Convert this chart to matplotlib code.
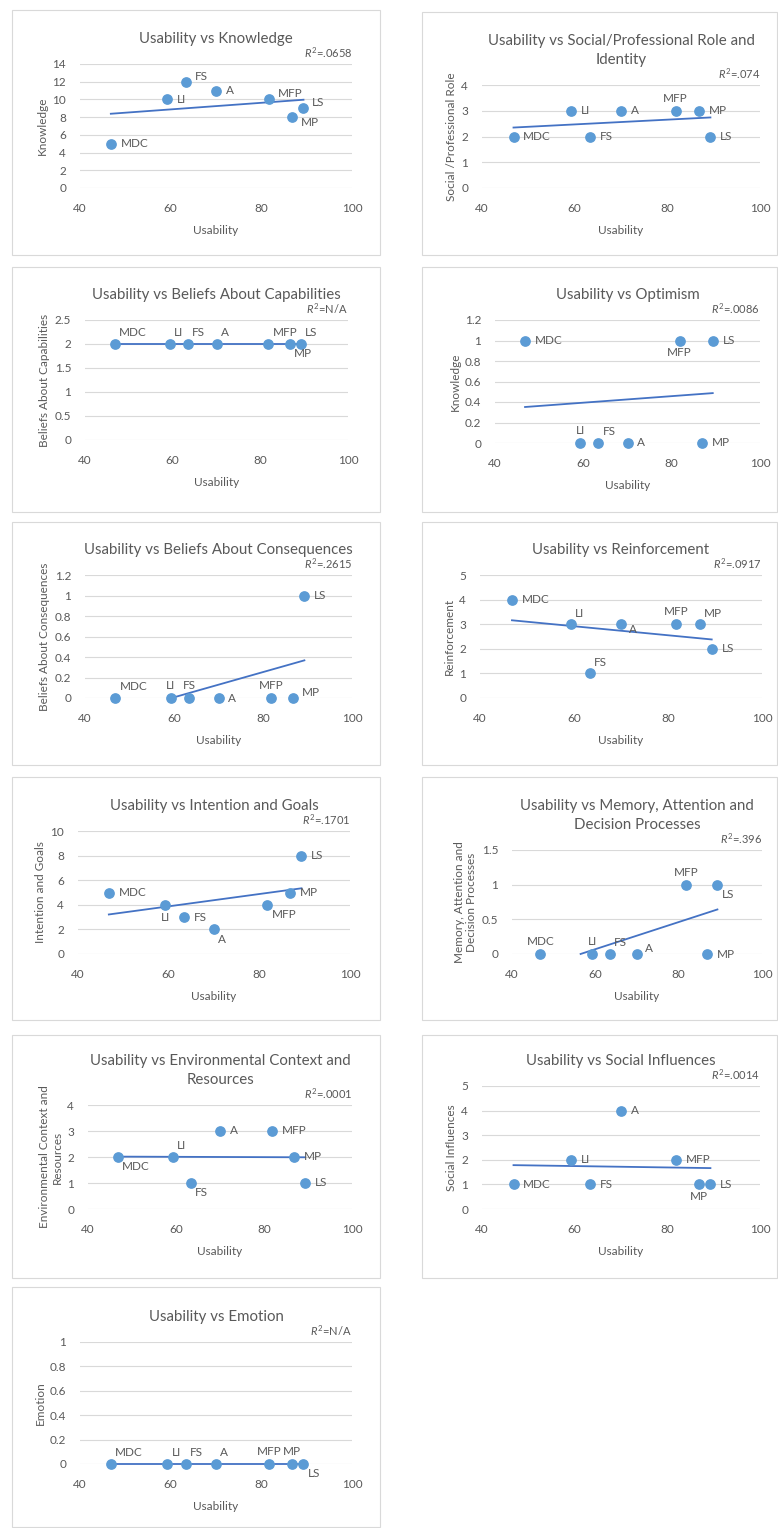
import numpy as np
import matplotlib.pyplot as plt
from matplotlib.patches import Rectangle
from matplotlib.ticker import FuncFormatter

plt.rcParams['font.family'] = ['Lato', 'DejaVu Sans']
plt.rcParams['mathtext.fontset'] = 'custom'
plt.rcParams['mathtext.it'] = 'Lato:italic'
plt.rcParams['mathtext.rm'] = 'Lato'

# sites and their usability scores
sites = ['MDC', 'LI', 'FS', 'A', 'MFP', 'MP', 'LS']
usability = [46.8, 59.3, 63.4, 70.0, 81.8, 86.8, 89.3]

# domain scores per site (same order as sites)
knowledge = [5, 10, 12, 11, 10, 8, 9]
social_role = [2, 3, 2, 3, 3, 3, 2]
beliefs_cap = [2, 2, 2, 2, 2, 2, 2]
optimism = [1, 0, 0, 0, 1, 0, 1]
beliefs_cons = [0, 0, 0, 0, 0, 0, 1]
reinforcement = [4, 3, 1, 3, 3, 3, 2]
intention = [5, 4, 3, 2, 4, 5, 8]
memory = [0, 0, 0, 0, 1, 0, 1]
environment = [2, 2, 1, 3, 3, 2, 1]
social_infl = [1, 2, 1, 4, 2, 1, 1]
emotion = [0, 0, 0, 0, 0, 0, 0]

series = [knowledge, social_role, beliefs_cap, optimism, beliefs_cons,
          reinforcement, intention, memory, environment, social_infl, emotion]

titles = ['Usability vs Knowledge',
          'Usability vs Social/Professional Role and\nIdentity',
          'Usability vs Beliefs About Capabilities',
          'Usability vs Optimism',
          'Usability vs Beliefs About Consequences',
          'Usability vs Reinforcement',
          'Usability vs Intention and Goals',
          'Usability vs Memory, Attention and\nDecision Processes',
          'Usability vs Environmental Context and\nResources',
          'Usability vs Social Influences',
          'Usability vs Emotion']
ylabels = ['Knowledge', 'Social /Professional Role', 'Beliefs About Capabilities',
           'Knowledge', 'Beliefs About Consequences', 'Reinforcement',
           'Intention and Goals', 'Memory, Attention and\nDecision Processes',
           'Environmental Context and\nResources', 'Social Influences', 'Emotion']
r2 = ['.0658', '.074', 'N/A', '.0086', '.2615', '.0917', '.1701', '.396',
      '.0001', '.0014', 'N/A']
ymax = [14, 4, 2.5, 1.2, 1.2, 5, 10, 1.5, 4, 5, 1]
ystep = [2, 1, 0.5, 0.2, 0.2, 1, 2, 0.5, 1, 1, 0.2]

# where each point label sits
label_pos = [
    ['r', 'r', 'ru', 'r', 'ru', 'rd', 'ru'],
    ['r', 'r', 'r', 'r', 'a', 'r', 'r'],
    ['ar', 'ar', 'ar', 'ar', 'ar', 'br', 'ar'],
    ['r', 'a', 'ar', 'r', 'b', 'r', 'r'],
    ['ar', 'a', 'a', 'r', 'a', 'ru', 'r'],
    ['r', 'ar', 'ar', 'rd', 'a', 'ar', 'r'],
    ['r', 'b', 'r', 'br', 'br', 'r', 'r'],
    ['a', 'a', 'ar', 'ru', 'a', 'r', 'br'],
    ['br', 'ar', 'br', 'r', 'r', 'r', 'r'],
    ['r', 'r', 'r', 'r', 'r', 'b', 'r'],
    ['ar', 'ar', 'ar', 'ar', 'a', 'a', 'br'],
]
offsets = {'r': (7, 0, 'left', 'center'), 'ru': (6, 4, 'left', 'center'),
           'rd': (6, -4, 'left', 'center'), 'a': (0, 5, 'center', 'bottom'),
           'ar': (3, 4, 'left', 'bottom'), 'b': (0, -5, 'center', 'top'),
           'br': (3, -3, 'left', 'top')}

# plot areas in pixels: x0, x1, ytop, ybottom
W, H = 778, 1528
areas = [(80, 352, 64, 188), (482, 760, 85, 188),
         (85, 348, 320, 440), (495, 760, 320, 443),
         (85, 352, 575, 698), (480, 762, 575, 698),
         (78, 350, 831, 954), (512, 762, 850, 954),
         (88, 352, 1105, 1209), (482, 760, 1086, 1209),
         (80, 352, 1342, 1464)]
boxes = [(12, 380, 10, 255), (422, 777, 12, 255),
         (12, 380, 267, 512), (422, 777, 267, 512),
         (12, 380, 522, 765), (422, 777, 522, 765),
         (12, 380, 777, 1020), (422, 777, 777, 1020),
         (12, 380, 1035, 1278), (422, 777, 1035, 1278),
         (12, 380, 1287, 1527)]

grey = '#595959'
dot = '#5B9BD5'
trend = '#4472C4'

fig = plt.figure(figsize=(W / 100, H / 100), dpi=100)

for (bx0, bx1, by0, by1) in boxes:
    fig.patches.append(Rectangle((bx0 / W, 1 - by1 / H), (bx1 - bx0) / W, (by1 - by0) / H,
                                 transform=fig.transFigure, fill=False,
                                 edgecolor='#D9D9D9', linewidth=0.8))

fmt = FuncFormatter(lambda v, p: '%g' % round(v, 3))

for i, y in enumerate(series):
    x0, x1, yt, yb = areas[i]
    ax = fig.add_axes([x0 / W, 1 - yb / H, (x1 - x0) / W, (yb - yt) / H])
    ax.set_xlim(40, 100)
    ax.set_ylim(0, ymax[i])
    ax.set_xticks([40, 60, 80, 100])
    ax.set_yticks(np.arange(0, ymax[i] + ystep[i] / 2, ystep[i]))
    ax.yaxis.set_major_formatter(fmt)
    ax.tick_params(length=0, labelsize=8.5, colors=grey)
    ax.tick_params(axis='x', pad=11)
    ax.tick_params(axis='y', pad=10)
    for s in ax.spines.values():
        s.set_visible(False)
    ax.grid(axis='y', color='#D9D9D9', linewidth=0.8)
    ax.set_axisbelow(True)

    # linear trend line, cut where it drops below the axis
    k, b = np.polyfit(usability, y, 1)
    xs = np.linspace(min(usability), max(usability), 300)
    ys = k * xs + b
    keep = ys >= -1e-9
    ax.plot(xs[keep], ys[keep], color=trend, linewidth=1.3, clip_on=False, zorder=2)

    ax.scatter(usability, y, s=45, color=dot, zorder=3, clip_on=False)
    for j, name in enumerate(sites):
        dx, dy, ha, va = offsets[label_pos[i][j]]
        ax.annotate(name, (usability[j], y[j]), xytext=(dx, dy), textcoords='offset points',
                    ha=ha, va=va, fontsize=8.5, color=grey, zorder=4)

    ax.set_title(titles[i], fontsize=10.8, color=grey, pad=15, linespacing=1.5)
    ax.annotate(r'$R^2$=' + r2[i], (1, 1), xycoords='axes fraction', xytext=(0, 3),
                textcoords='offset points', ha='right', va='bottom', fontsize=8, color=grey)
    ax.set_xlabel('Usability', fontsize=8.5, color=grey, labelpad=8)
    ax.set_ylabel(ylabels[i], fontsize=8.5, color=grey, labelpad=3, linespacing=1.2)

fig.savefig('out.png', dpi=100)
